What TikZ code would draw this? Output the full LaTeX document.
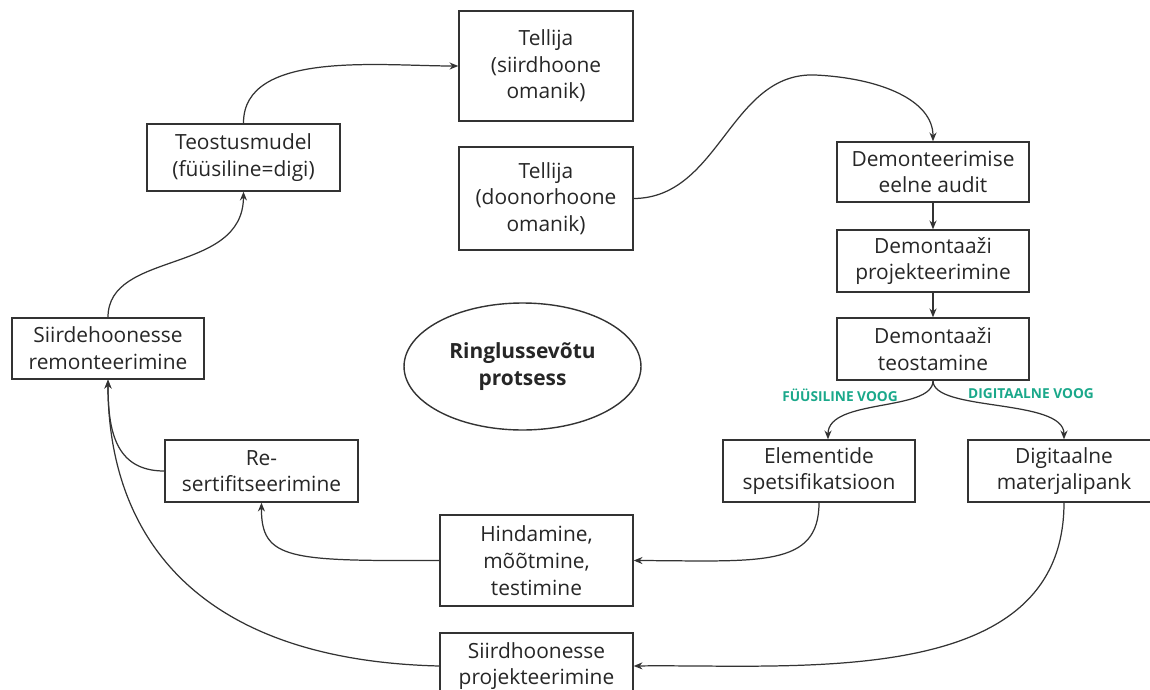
\documentclass[tikz,border=0pt]{standalone}
\usepackage{fontspec}
\setmainfont{Open Sans}
\usetikzlibrary{positioning, calc, arrows.meta, shapes.geometric}

\definecolor{linegray}{HTML}{333333}
\definecolor{voog}{HTML}{1AA88A}

\tikzset{
  box/.style={draw=linegray, line width=0.8pt, align=center, inner sep=0pt,
    font=\fontsize{11.9}{15.2}\selectfont, text=black!85},
  link/.style={draw=linegray, line width=0.7pt, -{Stealth[length=5pt, width=4pt]}},
  voogtext/.style={font=\fontsize{7.8}{9}\selectfont\bfseries, text=voog}
}

\begin{document}
\begin{tikzpicture}[x=0.02cm, y=-0.02cm]
  \useasboundingbox (0,0) rectangle (1150,690);

  \node[box, minimum width=3.48cm, minimum height=2.2cm] (siirdomanik) at (546,66) {Tellija\\(siirdhoone\\omanik)};
  \node[box, minimum width=3.86cm, minimum height=1.34cm] (mudel) at (243.5,157.5) {Teostusmudel\\(füüsiline=digi)};
  \node[box, minimum width=3.48cm, minimum height=2.06cm] (doonoromanik) at (546,198.5) {Tellija\\(doonorhoone\\omanik)};
  \node[box, minimum width=3.84cm, minimum height=1.2cm] (audit) at (933,172) {Demonteerimise\\eelne audit};
  \node[box, minimum width=3.84cm, minimum height=1.24cm] (demproj) at (933,261) {Demontaaži\\projekteerimine};
  \node[box, minimum width=3.84cm, minimum height=1.24cm] (demteos) at (933,349) {Demontaaži\\teostamine};
  \node[box, minimum width=3.84cm, minimum height=1.22cm] (remont) at (108,348.5) {Siirdehoonesse\\remonteerimine};
  \node[box, ellipse, minimum width=4.74cm, minimum height=2.54cm, font=\fontsize{11.9}{15.2}\selectfont\bfseries] (protsess) at (522.5,366.5) {Ringlussevõtu\\protsess};
  \node[box, minimum width=3.86cm, minimum height=1.24cm] (resert) at (261.5,471) {Re-\\sertifitseerimine};
  \node[box, minimum width=3.84cm, minimum height=1.24cm] (spets) at (819,471) {Elementide\\spetsifikatsioon};
  \node[box, minimum width=3.84cm, minimum height=1.24cm] (pank) at (1064,471) {Digitaalne\\materjalipank};
  \node[box, minimum width=3.86cm, minimum height=1.82cm] (hindamine) at (536.5,560.5) {Hindamine,\\mõõtmine,\\testimine};
  \node[box, minimum width=3.86cm, minimum height=1.32cm] (siirdproj) at (536.5,666) {Siirdhoonesse\\projekteerimine};

  \node[voogtext] (fyys) at (840,395) {FÜÜSILINE VOOG};
  \node[voogtext] (digi) at (1031,394) {DIGITAALNE VOOG};

  \draw[link] (mudel.north) .. controls (243,50) and (380,66) .. (siirdomanik.west);
  \draw[link] (doonoromanik.east) .. controls (720,198) and (730,72) .. (815,75)
    .. controls (880,78) and (933,100) .. (audit.north);
  \draw[link] (audit) -- (demproj);
  \draw[link] (demproj) -- (demteos);
  \draw[link] (demteos.south) .. controls (933,412) and (828,398) .. ($(spets.north)+(9,0)$);
  \draw[link] (demteos.south) .. controls (933,412) and (1064,398) .. (pank.north);
  \draw[link] (spets.south) .. controls (819,568) and (760,561) .. (hindamine.east);
  \draw[link] (pank.south) .. controls (1064,690) and (800,664) .. (siirdproj.east);
  \draw[link] (hindamine.west) .. controls (290,561) and (261,560) .. (resert.south);
  \draw[link] (resert.west) .. controls (115,471) and (108,430) .. (remont.south);
  \draw[link] (siirdproj.west) .. controls (190,660) and (108,530) .. (remont.south);
  \draw[link] (remont.north) .. controls (108,250) and (243,275) .. (mudel.south);
\end{tikzpicture}
\end{document}
